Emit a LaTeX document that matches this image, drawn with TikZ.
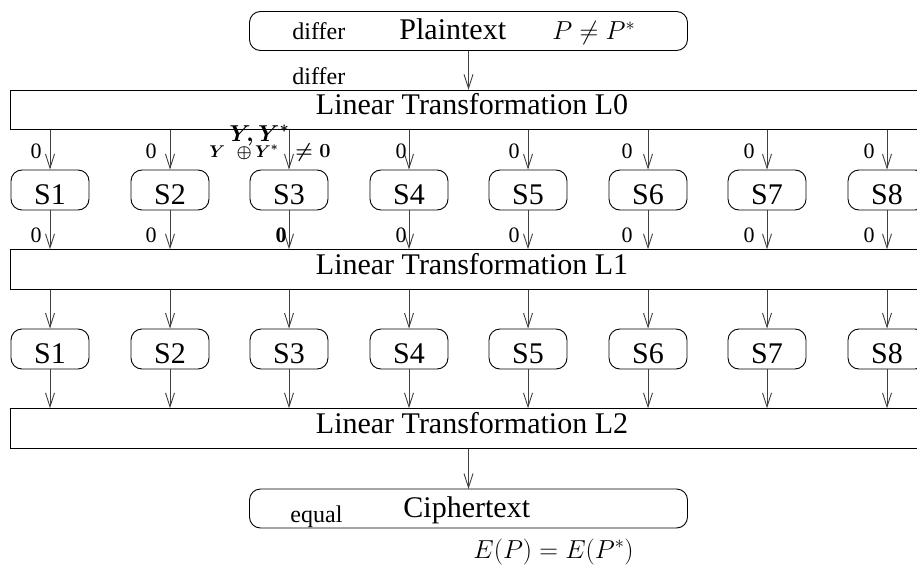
\RequirePackage{fix-cm}
\documentclass[tikz,border=0pt]{standalone}
\usepackage{fontspec}
\setmainfont{Liberation Serif}
\usetikzlibrary{arrows.meta}
\begin{document}
\begin{tikzpicture}[x=1pt,y=-1pt,
  line width=0.9pt,
  tip/.style={draw=black!75,-{Straight Barb[length=14pt,width=9pt,line width=0.9pt]}},
  sbox/.style={draw, rounded corners=11pt, minimum width=78pt, minimum height=40pt, inner sep=0pt},
  bigbox/.style={draw, rounded corners=11pt, minimum width=438pt, minimum height=39pt, inner sep=0pt},
  lbox/.style={draw, minimum width=920pt, minimum height=39.5pt, inner sep=0pt},
  big/.style={font=\fontsize{30}{34}\selectfont, inner sep=0pt},
  mid/.style={font=\fontsize{24}{28}\selectfont, inner sep=0pt},
  zero/.style={font=\fontsize{22}{25}\selectfont, inner sep=0pt, anchor=base east},
  mth/.style={font=\fontsize{26}{30}\selectfont, inner sep=0pt, anchor=base west},
  bm/.style={font=\fontsize{17}{19}\selectfont\boldmath, inner sep=0pt, anchor=base west},
]
\useasboundingbox (0,0) rectangle (917,567);
\clip (0,0) rectangle (917,567);

% top box
\node[bigbox] (PT) at (468.5,31) {};
\node[mid, anchor=base west] (d1) at (292,40) {differ};
\node[big, anchor=base west] (ptx) at (399,40) {Plaintext};
\node[mth] (pn) at (552,40) {$P\neq P^{*}$};

% linear boxes
\node[lbox] (L0) at (470,110) {};
\node[big, anchor=base] (L0t) at (472,114.5) {Linear Transformation L0};
\node[lbox] (L1) at (470,269.5) {};
\node[big, anchor=base] (L1t) at (472,274) {Linear Transformation L1};
\node[lbox] (L2) at (470,428.5) {};
\node[big, anchor=base] (L2t) at (472,433) {Linear Transformation L2};

\draw[tip] (PT.south) -- (L0.north -| PT.south);
\node[mid, anchor=base west] (d2) at (292,85) {differ};

% S boxes
\foreach \i/\x in {1/50,2/170,3/289,4/409,5/528,6/648,7/767,8/887}{
  \node[sbox] (A\i) at (\x,190) {};
  \node[big, anchor=base] (A\i t) at (\x,204) {S\i};
  \node[sbox] (B\i) at (\x,349) {};
  \node[big, anchor=base] (B\i t) at (\x,363) {S\i};
  \draw[tip] (L0.south -| A\i.north) -- (A\i.north);
  \draw[tip] (A\i.south) -- (L1.north -| A\i.south);
  \draw[tip] (L1.south -| B\i.north) -- (B\i.north);
  \draw[tip] (B\i.south) -- (L2.north -| B\i.south);
}

% zero labels
\foreach \i/\x in {1/42,2/157,4/407,5/520,6/633,7/755,8/875}{
  \node[zero] (za\i) at (\x,158) {0};
  \node[zero] (zb\i) at (\x,242) {0};
}
\node[zero, font=\fontsize{22}{25}\selectfont\bfseries] (zb3) at (287,242) {0};

% S3 special labels
\node[font=\fontsize{23}{25}\selectfont\boldmath, inner sep=0pt, anchor=base west] (yy) at (229,141) {$Y\!,Y^{*}$};
\node[bm] (yo) at (209,157) {$Y\hspace{7pt}\oplus\hspace{-1pt}Y^{*}$};
\node[bm, font=\fontsize{20}{22}\selectfont\boldmath] (ne) at (295,157) {$\neq 0$};

% bottom box
\draw[tip] (L2.south -| PT.south) -- (468.5,489);
\node[bigbox] (CT) at (468.5,508.5) {};
\node[mid, anchor=base west] (eq) at (290,522) {equal};
\node[big, anchor=base west] (ctx) at (403,517) {Ciphertext};
\node[mth] (ep) at (473,558) {$E(P)=E(P^{*})$};
\end{tikzpicture}
\end{document}
